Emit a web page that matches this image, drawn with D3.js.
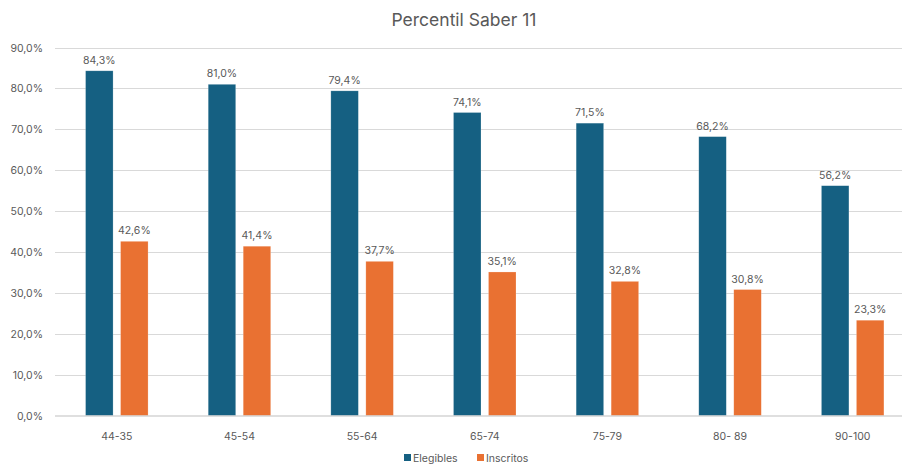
<!DOCTYPE html>
<html><head><meta charset="utf-8">
<script src="https://cdn.jsdelivr.net/npm/d3@7"></script>
<style>body{margin:0;background:#fff}svg{display:block;font-family:Inter,"Open Sans",sans-serif}</style>
</head><body>
<svg id="c" width="902" height="466"></svg>
<script>
const categories = ["44-35","45-54","55-64","65-74","75-79","80- 89","90-100"];
const elegibles = [84.3,81.0,79.4,74.1,71.5,68.2,56.2];
const inscritos = [42.6,41.4,37.7,35.1,32.8,30.8,23.3];
const seriesNames = ["Elegibles","Inscritos"];
const colors = ["#156082","#E97132"];
const yTicks = [0,10,20,30,40,50,60,70,80,90];
const title = "Percentil Saber 11";

const svg = d3.select("#c");
const fmt = v => v.toFixed(1).replace(".", ",") + "%";
const x = d3.scaleBand().domain(categories).range([55.5, 914]);
const y = d3.scaleLinear().domain([0, 90]).range([415.5, 47.5]);
const barW = 27.5, gap = 7.5;

svg.append("text").attr("x", 464).attr("y", 26).attr("text-anchor","middle")
  .attr("font-size", 17.5).attr("fill","#595959").text(title);

svg.append("g").selectAll("line").data(yTicks.filter(d=>d>0)).join("line")
  .attr("x1",55).attr("x2",914).attr("y1",d=>Math.round(y(d))+0.5).attr("y2",d=>Math.round(y(d))+0.5)
  .attr("stroke","#d9d9d9").attr("stroke-width",1.2);

svg.append("g").selectAll("text").data(yTicks).join("text")
  .attr("x",43).attr("y",d=>y(d)+4).attr("text-anchor","end")
  .attr("font-size",10.5).attr("fill","#595959").text(d=>fmt(d));

const series = [elegibles, inscritos];
series.forEach((vals, si) => {
  const g = svg.append("g");
  const xp = (c) => x(c) + x.bandwidth()/2 + (si === 0 ? -gap/2 - barW : gap/2);
  g.selectAll("rect").data(categories).join("rect")
    .attr("x", c => xp(c)).attr("width", barW)
    .attr("y", (c,i) => y(vals[i])).attr("height", (c,i) => y(0) - y(vals[i]))
    .attr("fill", colors[si]).attr("stroke","#ffffff").attr("stroke-opacity",0.35).attr("stroke-width",0.6);
  g.selectAll("text").data(categories).join("text")
    .attr("x", c => xp(c) + barW/2).attr("y", (c,i) => y(vals[i]) - 7)
    .attr("text-anchor","middle").attr("font-size",10.5).attr("fill","#595959")
    .text((c,i) => fmt(vals[i]));
});

svg.append("line").attr("x1",55).attr("x2",914).attr("y1",416).attr("y2",416)
  .attr("stroke","#bfbfbf").attr("stroke-width",1.2);

svg.append("g").selectAll("text").data(categories).join("text")
  .attr("x", c => x(c) + x.bandwidth()/2).attr("y", 440)
  .attr("text-anchor","middle").attr("font-size",10.5).attr("fill","#595959").text(c => c);

const legX = [404, 477];
seriesNames.forEach((n, i) => {
  svg.append("rect").attr("x", legX[i]).attr("y", 454).attr("width", 7).attr("height", 7).attr("fill", colors[i]);
  svg.append("text").attr("x", legX[i] + 9).attr("y", 461.5).attr("font-size",10.5).attr("fill","#595959").text(n);
});
</script>
</body></html>
